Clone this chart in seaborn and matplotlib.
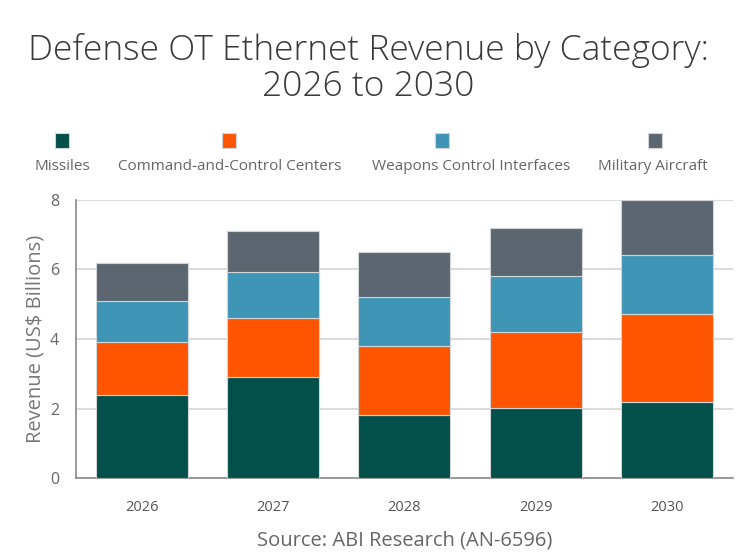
import matplotlib
matplotlib.use('Agg')
import matplotlib.pyplot as plt
import seaborn as sns
import numpy as np
from matplotlib.patches import Rectangle

# Chart data (US$ billions)
years = ['2026', '2027', '2028', '2029', '2030']
categories = ['Missiles', 'Command-and-Control Centers',
              'Weapons Control Interfaces', 'Military Aircraft']
missiles = [2.39, 2.90, 1.81, 2.01, 2.20]
command_control = [1.52, 1.70, 1.98, 2.20, 2.52]
weapons_control = [1.19, 1.32, 1.42, 1.59, 1.69]
military_aircraft = [1.09, 1.19, 1.29, 1.38, 1.59]
colors = ['#03504a', '#ff5500', '#3e95b5', '#5b6670']

series = [missiles, command_control, weapons_control, military_aircraft]

sns.set_style('white')
plt.rcParams['font.family'] = ['Open Sans', 'DejaVu Sans']

fig = plt.figure(figsize=(7.36, 5.58), dpi=100)
ax = fig.add_axes([0.103, 0.143, 0.893, 0.499])

# stacked bars
bottom = np.zeros(len(years))
for vals, col in zip(series, colors):
    sns.barplot(x=years, y=vals, bottom=bottom, color=col, width=0.7,
                errorbar=None, edgecolor='#d0d6d8', linewidth=0.8,
                saturation=1, ax=ax, zorder=3)
    bottom = bottom + np.array(vals)

ax.set_ylim(0, 8)
ax.set_xlim(-0.5, 4.5)
ax.set_yticks([0, 2, 4, 6, 8])
ax.yaxis.grid(True, color='#dcdcdc', linewidth=1.5, zorder=0)
ax.set_axisbelow(True)

for s in ['top', 'right']:
    ax.spines[s].set_visible(False)
for s in ['left', 'bottom']:
    ax.spines[s].set_color('#8a8a8a')
    ax.spines[s].set_linewidth(1.2)

ax.tick_params(axis='y', length=6, color='#8a8a8a', labelsize=11.5,
               labelcolor='#666666', pad=6)
ax.tick_params(axis='x', which='major', length=0, labelsize=10.5,
               labelcolor='#555555', pad=16)
ax.set_xticks([0.5, 1.5, 2.5, 3.5], minor=True)
ax.tick_params(axis='x', which='minor', length=9, color='#8a8a8a', width=1.2)

ax.set_ylabel('Revenue (US$ Billions)', fontsize=14.5, color='#777777', labelpad=3)
ax.set_xlabel('Source: ABI Research (AN-6596)', fontsize=14.5, color='#666666', labelpad=11)

fig.text(0.5, 0.94, 'Defense OT Ethernet Revenue by Category:\n2026 to 2030',
         ha='center', va='top', fontsize=25.5, color='#3a3a3a',
         fontweight='light', linespacing=1.05)

# legend: square above label
sq_x = [62, 229, 442, 655]
lab_x = [62, 230, 471, 653]
for name, col, sx, lx in zip(categories, colors, sq_x, lab_x):
    fig.add_artist(Rectangle(((sx - 7) / 736, 1 - 148 / 558), 14 / 736, 15 / 558,
                             transform=fig.transFigure, facecolor=col,
                             edgecolor='#d0d6d8', linewidth=0.8))
    fig.text(lx / 736, 1 - 166 / 558, name, ha='center', va='center',
             fontsize=11, color='#666666')

fig.savefig('out.png', dpi=100)
